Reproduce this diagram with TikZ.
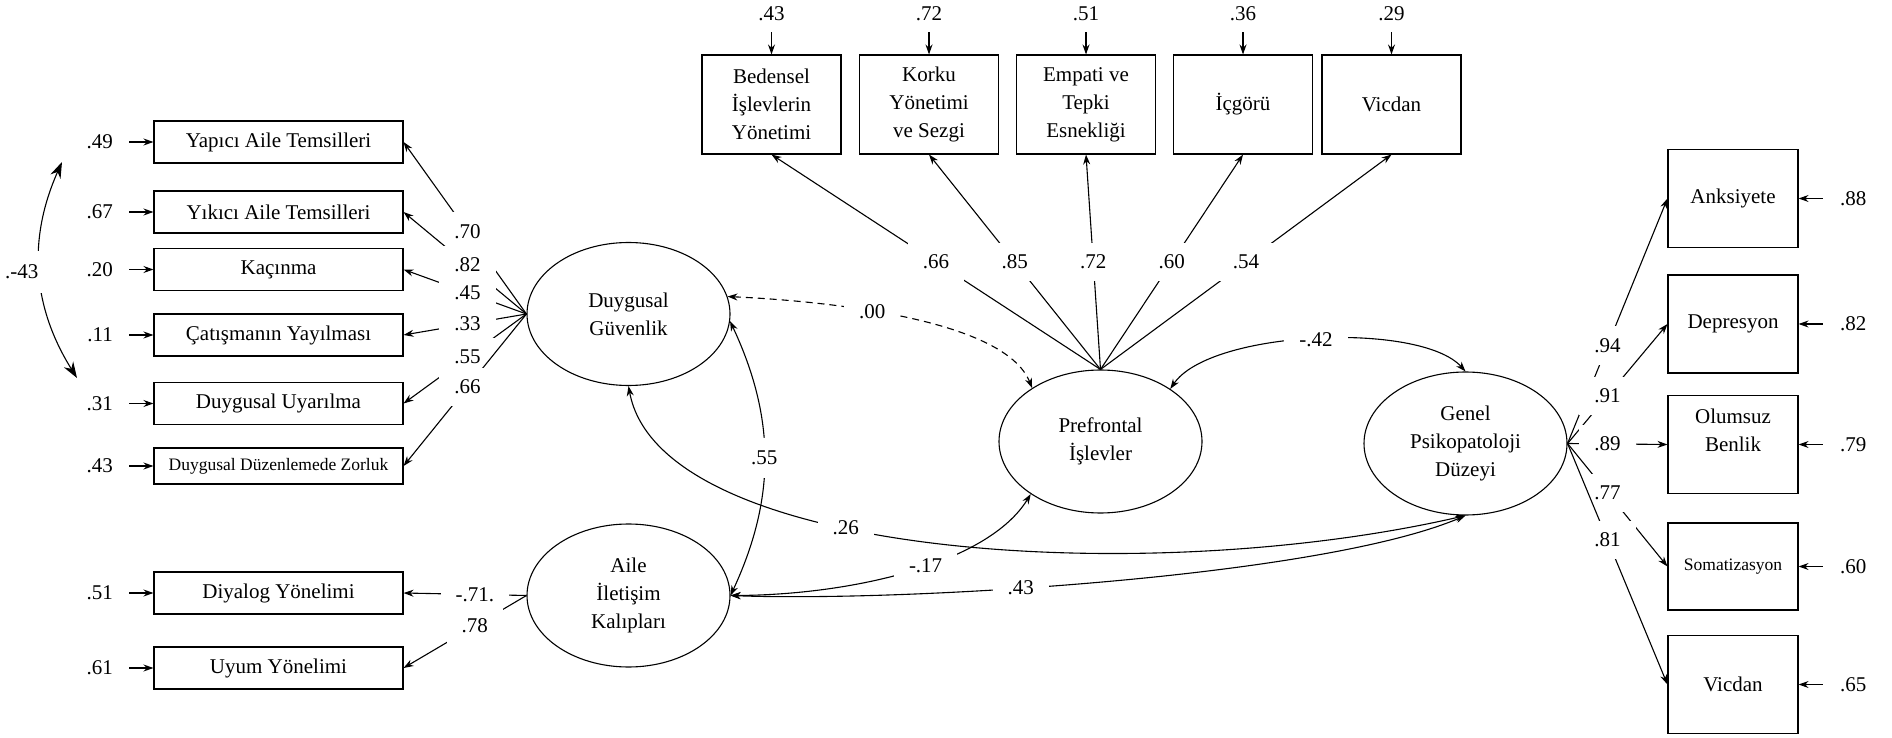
\documentclass[tikz,border=0pt]{standalone}
\usepackage{fontspec}
\setmainfont{Liberation Serif}
\usetikzlibrary{positioning,arrows.meta,shapes.geometric}
\begin{document}
\begin{tikzpicture}[
  x=1pt, y=1pt, line width=1.1pt,
  every node/.style={font=\fontsize{21}{28}\selectfont, inner sep=2pt},
  >={Stealth[length=10pt,width=7pt]}
]
\tikzset{
  caixa/.style={draw, rectangle, align=center, minimum width=249pt, minimum height=42pt},
  topo/.style={draw, rectangle, align=center, minimum width=139pt, minimum height=99pt},
  direita/.style={draw, rectangle, align=center, minimum width=130pt, minimum height=98pt},
  latente/.style={draw, ellipse, align=center, minimum width=203pt, minimum height=143pt},
  pequeno/.style={font=\fontsize{17.5}{22}\selectfont},
  peso/.style={fill=white, inner xsep=15pt, inner ysep=12pt},
  seta/.style={->},
  dupla/.style={<->},
  tracejada/.style={dash pattern=on 7pt off 5pt}
}
\useasboundingbox (0,0) rectangle (1892,737);

\node[latente] (dg) at (628.5,423) {Duygusal\\Güvenlik};
\node[latente] (aik) at (628.5,141.5) {Aile\\İletişim\\Kalıpları};
\node[latente] (pf) at (1100.5,295.5) {Prefrontal\\İşlevler};
\node[latente] (gp) at (1465.5,293.5) {Genel\\Psikopatoloji\\Düzeyi};

\node[caixa] (yap) at (278.5,595) {Yapıcı Aile Temsilleri};
\node[caixa] (yik) at (278.5,525) {Yıkıcı Aile Temsilleri};
\node[caixa] (kac) at (278.5,467.5) {Kaçınma};
\node[caixa] (cat) at (278.5,402) {Çatışmanın Yayılması};
\node[caixa] (duy) at (278.5,333.5) {Duygusal Uyarılma};
\node[caixa, pequeno, minimum height=36pt] (ddz) at (278.5,271) {Duygusal Düzenlemede Zorluk};
\node[caixa] (diy) at (278.5,144) {Diyalog Yönelimi};
\node[caixa] (uyu) at (278.5,69) {Uyum Yönelimi};

\node[topo] (bed) at (771.5,632.5) {Bedensel\\İşlevlerin\\Yönetimi};
\node[topo] (kor) at (929,632.5) {Korku\\Yönetimi\\ve Sezgi};
\node[topo] (emp) at (1086,632.5) {Empati ve\\Tepki\\Esnekliği};
\node[topo] (icg) at (1243,632.5) {İçgörü};
\node[topo] (vic) at (1391.5,632.5) {Vicdan};

\node[direita] (ank) at (1733,538.5) {Anksiyete};
\node[direita] (dep) at (1733,413) {Depresyon};
\node[direita] (olu) at (1733,292.5) {Olumsuz\\Benlik\\\mbox{}};
\node[direita, pequeno, minimum height=87pt] (som) at (1733,170.5) {Somatizasyon};
\node[direita] (vid) at (1733,52.5) {Vicdan};

\node[left=38pt of yap] (eyap) {.49};
\node[left=38pt of yik] (eyik) {.67};
\node[left=38pt of kac] (ekac) {.20};
\node[left=38pt of cat] (ecat) {.11};
\node[left=38pt of duy] (eduy) {.31};
\node[left=38pt of ddz] (eddz) {.43};
\node[left=38pt of diy] (ediy) {.51};
\node[left=38pt of uyu] (euyu) {.61};
\draw[seta, shorten <=14pt] (eyap) -- (yap);
\draw[seta, shorten <=14pt] (eyik) -- (yik);
\draw[seta, shorten <=14pt] (ekac) -- (kac);
\draw[seta, shorten <=14pt] (ecat) -- (cat);
\draw[seta, shorten <=14pt] (eduy) -- (duy);
\draw[seta, shorten <=14pt] (eddz) -- (ddz);
\draw[seta, shorten <=14pt] (ediy) -- (diy);
\draw[seta, shorten <=14pt] (euyu) -- (uyu);

\node[above=31pt of bed] (ebed) {.43};
\node[above=31pt of kor] (ekor) {.72};
\node[above=31pt of emp] (eemp) {.51};
\node[above=31pt of icg] (eicg) {.36};
\node[above=31pt of vic] (evic) {.29};
\draw[seta, shorten <=9pt] (ebed) -- (bed);
\draw[seta, shorten <=9pt] (ekor) -- (kor);
\draw[seta, shorten <=9pt] (eemp) -- (emp);
\draw[seta, shorten <=9pt] (eicg) -- (icg);
\draw[seta, shorten <=9pt] (evic) -- (vic);

\node[right=39pt of ank] (eank) {.88};
\node[right=39pt of dep] (edep) {.82};
\node[right=39pt of olu] (eolu) {.79};
\node[right=39pt of som] (esom) {.60};
\node[right=39pt of vid] (evid) {.65};
\draw[seta, shorten <=15pt] (eank) -- (ank);
\draw[seta, shorten <=15pt] (edep) -- (dep);
\draw[seta, shorten <=15pt] (eolu) -- (olu);
\draw[seta, shorten <=15pt] (esom) -- (som);
\draw[seta, shorten <=15pt] (evid) -- (vid);

\draw[seta] (dg.west) -- node[peso, pos=.48] {.70} (yap.east);
\draw[seta] (dg.west) -- node[peso, pos=.48] {.82} (yik.east);
\draw[seta] (dg.west) -- node[peso, pos=.48] {.45} (kac.east);
\draw[seta] (dg.west) -- node[peso, pos=.48] {.33} (cat.east);
\draw[seta] (dg.west) -- node[peso, pos=.48] {.55} (duy.east);
\draw[seta] (dg.west) -- node[peso, pos=.48] {.66} (ddz.east);
\draw[seta] (aik.west) -- node[peso, pos=.42] {-.71.} (diy.east);
\draw[seta] (aik.west) -- node[peso, pos=.42] {.78} (uyu.east);

\draw[seta] (pf.north) -- node[peso, pos=.5] {.66} (bed.south);
\draw[seta] (pf.north) -- node[peso, pos=.5] {.85} (kor.south);
\draw[seta] (pf.north) -- node[peso, pos=.5] {.72} (emp.south);
\draw[seta] (pf.north) -- node[peso, pos=.5] {.60} (icg.south);
\draw[seta] (pf.north) -- node[peso, pos=.5] {.54} (vic.south);

\draw[seta] (gp.east) -- node[peso, pos=.4] {.94} (ank.west);
\draw[seta] (gp.east) -- node[peso, pos=.4] {.91} (dep.west);
\draw[seta] (gp.east) -- node[peso, pos=.4] {.89} (olu.west);
\draw[seta] (gp.east) -- node[peso, pos=.4] {.77} (som.west);
\draw[seta] (gp.east) -- node[peso, pos=.4] {.81} (vid.west);

\coordinate (cvA) at (62,575);
\coordinate (cvB) at (77,359);
\draw[{Stealth[length=16pt,width=11pt]}-{Stealth[length=16pt,width=11pt]}] (cvA) to[bend right=28] node[peso, xshift=-18pt, inner ysep=14pt] {.-43} (cvB);

\draw[dupla] (dg.-4) to[bend left=25] node[peso, inner xsep=8pt, inner ysep=13pt] {.55} (aik.east);
\draw[dupla, tracejada] (dg.10) .. controls +(88,-4) and +(-28,71) .. node[peso, pos=.42] {.00} (pf.142);
\draw[dupla] (pf.37) .. controls +(40,59) and +(-45,50) .. node[peso, pos=.5] {-.42} (gp.north);
\draw[dupla] (dg.south) .. controls +(31.5,-173) and +(-315.5,-73) .. node[peso, pos=.4] {.26} (gp.south);
\draw[dupla] (aik.east) .. controls +(120,0.5) and +(-43,-70) .. node[peso, pos=.55] {-.17} (pf.217);
\draw[dupla] (aik.east) .. controls +(170,-6.5) and +(-145.5,-62) .. node[peso, pos=.4] {.43} (gp.south);
\end{tikzpicture}
\end{document}
